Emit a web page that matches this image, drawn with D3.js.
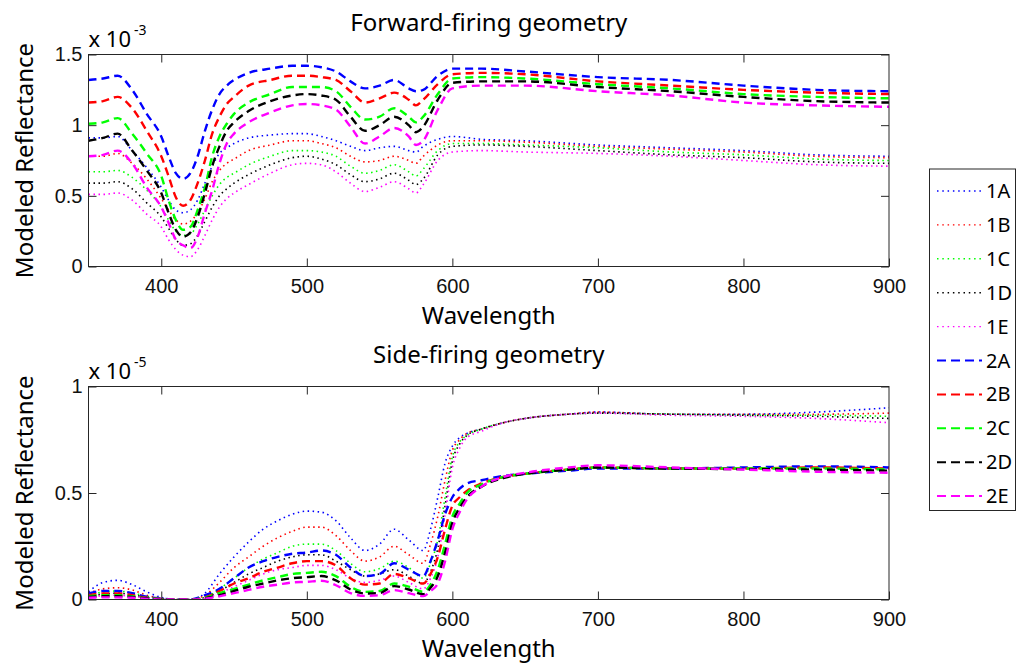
<!DOCTYPE html>
<html>
<head>
<meta charset="utf-8">
<script src="https://cdn.jsdelivr.net/npm/d3@7"></script>
<style>
  body { margin: 0; background: #fff; }
  svg { display: block; font-family: "Noto Sans", "Open Sans", sans-serif; }
</style>
</head>
<body>
<div id="chart"></div>
<script>
// ─── Data ───
const seriesNames = ["1A", "1B", "1C", "1D", "1E", "2A", "2B", "2C", "2D", "2E"];

// Forward-firing geometry (x 1e-3)
const wlFwd = [350, 360, 370, 380, 390, 400, 405, 410, 415, 420, 425, 430, 435, 440, 445, 450, 460, 475, 490, 500,
  510, 520, 530, 540, 550, 560, 570, 575, 580, 590, 600, 620, 650, 700, 750, 800, 850, 900];

const fwd1A = [0.91, 0.91, 0.92, 0.82, 0.70, 0.56, 0.47, 0.40, 0.38, 0.40, 0.47, 0.59, 0.71, 0.80, 0.84, 0.87, 0.91, 0.93, 0.94, 0.94,
  0.92, 0.89, 0.85, 0.82, 0.84, 0.85, 0.82, 0.81, 0.85, 0.90, 0.92, 0.90, 0.89, 0.86, 0.84, 0.82, 0.79, 0.78];
const fwd1B = [0.78, 0.78, 0.80, 0.73, 0.62, 0.48, 0.40, 0.33, 0.30, 0.32, 0.38, 0.48, 0.60, 0.68, 0.73, 0.76, 0.82, 0.86, 0.89, 0.89,
  0.87, 0.84, 0.78, 0.74, 0.75, 0.78, 0.75, 0.73, 0.78, 0.86, 0.89, 0.89, 0.88, 0.85, 0.83, 0.81, 0.78, 0.77];
const fwd1C = [0.67, 0.67, 0.68, 0.63, 0.54, 0.42, 0.33, 0.25, 0.22, 0.23, 0.30, 0.40, 0.50, 0.58, 0.63, 0.66, 0.72, 0.78, 0.82, 0.82,
  0.81, 0.78, 0.71, 0.66, 0.68, 0.72, 0.67, 0.64, 0.69, 0.82, 0.87, 0.87, 0.86, 0.84, 0.81, 0.79, 0.76, 0.75];
const fwd1D = [0.59, 0.59, 0.60, 0.55, 0.45, 0.35, 0.27, 0.19, 0.15, 0.16, 0.22, 0.32, 0.42, 0.50, 0.55, 0.59, 0.65, 0.72, 0.77, 0.78,
  0.76, 0.72, 0.65, 0.60, 0.62, 0.66, 0.61, 0.58, 0.62, 0.79, 0.85, 0.86, 0.85, 0.82, 0.79, 0.77, 0.74, 0.73];
const fwd1E = [0.51, 0.51, 0.52, 0.47, 0.37, 0.28, 0.19, 0.12, 0.08, 0.07, 0.12, 0.22, 0.33, 0.42, 0.48, 0.52, 0.58, 0.66, 0.72, 0.73,
  0.72, 0.67, 0.59, 0.53, 0.56, 0.60, 0.55, 0.52, 0.58, 0.75, 0.81, 0.82, 0.81, 0.80, 0.78, 0.75, 0.72, 0.71];
const fwd2A = [1.32, 1.33, 1.35, 1.25, 1.08, 0.92, 0.78, 0.66, 0.62, 0.66, 0.78, 0.96, 1.11, 1.22, 1.28, 1.32, 1.37, 1.40, 1.42, 1.42,
  1.41, 1.38, 1.31, 1.26, 1.28, 1.32, 1.26, 1.24, 1.25, 1.35, 1.40, 1.40, 1.38, 1.34, 1.32, 1.28, 1.25, 1.24];
const fwd2B = [1.16, 1.17, 1.20, 1.12, 0.96, 0.78, 0.64, 0.49, 0.43, 0.47, 0.59, 0.75, 0.94, 1.06, 1.15, 1.20, 1.28, 1.32, 1.35, 1.35,
  1.34, 1.32, 1.24, 1.16, 1.19, 1.23, 1.18, 1.14, 1.18, 1.29, 1.36, 1.37, 1.36, 1.31, 1.28, 1.25, 1.23, 1.22];
const fwd2C = [1.01, 1.02, 1.05, 0.94, 0.80, 0.64, 0.47, 0.33, 0.26, 0.28, 0.40, 0.56, 0.78, 0.92, 1.01, 1.08, 1.16, 1.22, 1.27, 1.27,
  1.27, 1.24, 1.13, 1.04, 1.06, 1.12, 1.06, 1.02, 1.06, 1.22, 1.33, 1.34, 1.33, 1.29, 1.26, 1.22, 1.20, 1.19];
const fwd2D = [0.89, 0.91, 0.94, 0.82, 0.68, 0.52, 0.38, 0.26, 0.21, 0.24, 0.35, 0.52, 0.71, 0.85, 0.96, 1.02, 1.10, 1.17, 1.21, 1.22,
  1.21, 1.18, 1.06, 0.96, 1.00, 1.06, 1.00, 0.95, 0.99, 1.18, 1.30, 1.31, 1.31, 1.27, 1.24, 1.20, 1.17, 1.16];
const fwd2E = [0.78, 0.79, 0.82, 0.73, 0.56, 0.42, 0.31, 0.19, 0.15, 0.13, 0.21, 0.38, 0.54, 0.73, 0.87, 0.94, 1.02, 1.09, 1.14, 1.15,
  1.14, 1.11, 0.99, 0.87, 0.92, 0.98, 0.92, 0.86, 0.89, 1.11, 1.26, 1.28, 1.28, 1.24, 1.21, 1.16, 1.14, 1.13];

// Side-firing geometry (x 1e-5)
const wlSide = [350, 360, 370, 380, 390, 400, 410, 420, 430, 440, 450, 460, 470, 480, 490, 500, 510, 520, 530, 540,
  550, 560, 570, 580, 585, 590, 595, 600, 605, 610, 620, 635, 650, 680, 700, 750, 800, 850, 900];

const side1A = [0.036, 0.08, 0.09, 0.07, 0.036, 0.01, 0, 0, 0.03, 0.12, 0.20, 0.27, 0.33, 0.37, 0.40, 0.415, 0.41, 0.37, 0.29, 0.23,
  0.26, 0.33, 0.28, 0.23, 0.33, 0.48, 0.64, 0.72, 0.76, 0.78, 0.80, 0.83, 0.85, 0.87, 0.88, 0.87, 0.87, 0.88, 0.90];
const side1B = [0.03, 0.05, 0.055, 0.045, 0.02, 0.005, 0, 0, 0.02, 0.08, 0.15, 0.20, 0.25, 0.29, 0.32, 0.34, 0.34, 0.30, 0.23, 0.18,
  0.20, 0.25, 0.21, 0.17, 0.26, 0.39, 0.56, 0.70, 0.75, 0.78, 0.80, 0.83, 0.85, 0.87, 0.88, 0.87, 0.87, 0.87, 0.875];
const side1C = [0.02, 0.035, 0.04, 0.03, 0.015, 0.003, 0, 0, 0.01, 0.05, 0.10, 0.15, 0.19, 0.22, 0.25, 0.26, 0.26, 0.23, 0.17, 0.13,
  0.145, 0.18, 0.15, 0.10, 0.17, 0.28, 0.48, 0.67, 0.74, 0.77, 0.80, 0.83, 0.85, 0.87, 0.875, 0.87, 0.865, 0.865, 0.86];
const side1D = [0.015, 0.025, 0.03, 0.022, 0.01, 0.002, 0, 0, 0.008, 0.04, 0.08, 0.12, 0.15, 0.18, 0.20, 0.21, 0.21, 0.18, 0.14, 0.11,
  0.12, 0.14, 0.11, 0.075, 0.13, 0.24, 0.44, 0.65, 0.73, 0.77, 0.80, 0.83, 0.85, 0.87, 0.875, 0.87, 0.865, 0.86, 0.85];
const side1E = [0.01, 0.018, 0.02, 0.015, 0.006, 0, 0, 0, 0.005, 0.03, 0.06, 0.09, 0.12, 0.14, 0.15, 0.16, 0.16, 0.14, 0.10, 0.08,
  0.09, 0.11, 0.08, 0.05, 0.10, 0.20, 0.40, 0.62, 0.71, 0.76, 0.79, 0.83, 0.85, 0.87, 0.875, 0.865, 0.86, 0.85, 0.83];
const side2A = [0.028, 0.04, 0.04, 0.03, 0.013, 0.005, 0, 0, 0.02, 0.05, 0.10, 0.15, 0.18, 0.20, 0.215, 0.22, 0.23, 0.21, 0.15, 0.11,
  0.12, 0.17, 0.14, 0.11, 0.18, 0.28, 0.40, 0.48, 0.52, 0.545, 0.56, 0.58, 0.59, 0.605, 0.615, 0.615, 0.62, 0.625, 0.62];
const side2B = [0.02, 0.028, 0.028, 0.02, 0.008, 0.003, 0, 0, 0.01, 0.04, 0.075, 0.10, 0.13, 0.15, 0.17, 0.18, 0.18, 0.16, 0.10, 0.07,
  0.075, 0.12, 0.10, 0.075, 0.12, 0.20, 0.33, 0.44, 0.48, 0.51, 0.545, 0.575, 0.59, 0.61, 0.62, 0.615, 0.615, 0.62, 0.615];
const side2C = [0.015, 0.02, 0.02, 0.015, 0.006, 0.002, 0, 0, 0.008, 0.03, 0.05, 0.07, 0.09, 0.105, 0.12, 0.125, 0.13, 0.11, 0.06, 0.036,
  0.04, 0.075, 0.06, 0.036, 0.07, 0.14, 0.26, 0.39, 0.45, 0.50, 0.54, 0.575, 0.59, 0.61, 0.62, 0.615, 0.615, 0.615, 0.61];
const side2D = [0.012, 0.015, 0.015, 0.012, 0.005, 0.001, 0, 0, 0.006, 0.02, 0.04, 0.06, 0.075, 0.09, 0.10, 0.105, 0.11, 0.09, 0.047, 0.028,
  0.03, 0.063, 0.047, 0.025, 0.055, 0.11, 0.22, 0.36, 0.43, 0.48, 0.53, 0.57, 0.59, 0.61, 0.62, 0.615, 0.612, 0.61, 0.605];
const side2E = [0.008, 0.01, 0.01, 0.008, 0.003, 0, 0, 0, 0.004, 0.015, 0.03, 0.045, 0.06, 0.07, 0.08, 0.083, 0.088, 0.067, 0.03, 0.017,
  0.02, 0.044, 0.03, 0.016, 0.04, 0.075, 0.18, 0.33, 0.41, 0.47, 0.53, 0.575, 0.595, 0.62, 0.63, 0.62, 0.61, 0.60, 0.595];

const xTicks = [400, 500, 600, 700, 800, 900];
const yTicksFwd = [0, 0.5, 1, 1.5];
const yTicksSide = [0, 0.5, 1];

// ─── Styles ───
const colors = ["#0000ff", "#ff0000", "#00ff00", "#000000", "#ff00ff"];
const styleOf = (i) => i < 5
  ? { color: colors[i], dash: "1.5,3.5", width: 1.6 }
  : { color: colors[i - 5], dash: "8,5", width: 2.4 };

const W = 1018, H = 665;
const axColor = "#262626";
const tickFont = 20;   // tick labels, legend
const labelFont = 24;  // titles, axis labels

const svg = d3.select("#chart").append("svg")
  .attr("width", W).attr("height", H)
  .attr("viewBox", `0 0 ${W} ${H}`);

const xLeft = 88.5, xRight = 889;

function drawPanel(opts) {
  const { top, bottom, wl, series, yMax, yTicks, title, exp } = opts;
  const x = d3.scaleLinear().domain([350, 900]).range([xLeft, xRight]);
  const y = d3.scaleLinear().domain([0, yMax]).range([bottom, top]);
  const g = svg.append("g");

  // clip to the axes box
  const clipId = "clip" + Math.round(top);
  g.append("clipPath").attr("id", clipId).append("rect")
    .attr("x", xLeft).attr("y", top).attr("width", xRight - xLeft).attr("height", bottom - top);

  const line = d3.line()
    .x((d) => x(d[0]))
    .y((d) => y(d[1]))
    .curve(d3.curveMonotoneX);

  const gLines = g.append("g").attr("clip-path", `url(#${clipId})`);
  series.forEach((vals, i) => {
    const st = styleOf(i);
    gLines.append("path")
      .datum(wl.map((w, k) => [w, vals[k]]))
      .attr("d", line)
      .attr("fill", "none")
      .attr("stroke", st.color)
      .attr("stroke-width", st.width)
      .attr("stroke-dasharray", st.dash);
  });

  // ── Axes (inward ticks on all four sides) ──
  const fmt = (d) => String(d);
  const styleAxis = (sel) => {
    sel.select(".domain").remove();
    sel.selectAll(".tick line").attr("stroke", axColor).attr("stroke-width", 1);
    sel.selectAll("text").attr("font-family", null)
      .style("font-size", tickFont + "px").attr("fill", "#111");
  };

  g.append("g").attr("transform", `translate(0,${bottom})`)
    .call(d3.axisBottom(x).tickValues(xTicks).tickFormat(fmt).tickSizeInner(-8).tickSizeOuter(0).tickPadding(12))
    .call(styleAxis);
  g.append("g").attr("transform", `translate(0,${top})`)
    .call(d3.axisTop(x).tickValues(xTicks.slice(0, -1)).tickFormat("").tickSizeInner(-8).tickSizeOuter(0))
    .call(styleAxis);
  g.append("g").attr("transform", `translate(${xLeft},0)`)
    .call(d3.axisLeft(y).tickValues(yTicks).tickFormat(fmt).tickSizeInner(-8).tickSizeOuter(0).tickPadding(6))
    .call(styleAxis);
  g.append("g").attr("transform", `translate(${xRight},0)`)
    .call(d3.axisRight(y).tickValues(yTicks).tickFormat("").tickSizeInner(-8).tickSizeOuter(0))
    .call(styleAxis);

  g.append("rect")
    .attr("x", xLeft).attr("y", top)
    .attr("width", xRight - xLeft).attr("height", bottom - top)
    .attr("fill", "none").attr("stroke", axColor).attr("stroke-width", 1);

  // ── Labels ──
  const cx = (xLeft + xRight) / 2;
  g.append("text").attr("x", cx).attr("y", bottom + 57)
    .attr("text-anchor", "middle").style("font-size", labelFont + "px").text("Wavelength");
  g.append("text").attr("x", cx).attr("y", top - 23.5)
    .attr("text-anchor", "middle").style("font-size", labelFont + "px").text(title);
  g.append("text")
    .attr("transform", `translate(33,${(top + bottom) / 2}) rotate(-90)`)
    .attr("text-anchor", "middle").style("font-size", labelFont + "px").text("Modeled Reflectance");

  const ex = g.append("text").attr("x", xLeft).attr("y", top - 7.5).style("font-size", "22px");
  ex.append("tspan").text("x 10");
  ex.append("tspan").attr("dx", 3).attr("dy", -12).style("font-size", "14px").text(exp);
}

drawPanel({
  top: 54.5, bottom: 266.5, wl: wlFwd,
  series: [fwd1A, fwd1B, fwd1C, fwd1D, fwd1E, fwd2A, fwd2B, fwd2C, fwd2D, fwd2E],
  yMax: 1.5, yTicks: yTicksFwd, title: "Forward-firing geometry", exp: "-3",
});
drawPanel({
  top: 386.5, bottom: 599.5, wl: wlSide,
  series: [side1A, side1B, side1C, side1D, side1E, side2A, side2B, side2C, side2D, side2E],
  yMax: 1, yTicks: yTicksSide, title: "Side-firing geometry", exp: "-5",
});

// ─── Legend ───
const lg = svg.append("g");
const lgTop = 169, lgLeft = 929.5, rowH = 33.9;
lg.append("rect")
  .attr("x", lgLeft).attr("y", lgTop).attr("width", 86).attr("height", 341.5)
  .attr("fill", "#fff").attr("stroke", axColor).attr("stroke-width", 1);
seriesNames.forEach((name, i) => {
  const st = styleOf(i);
  const yy = 191 + i * rowH;
  lg.append("line")
    .attr("x1", 937).attr("x2", 982).attr("y1", yy).attr("y2", yy)
    .attr("stroke", st.color).attr("stroke-width", i < 5 ? 1.4 : 2)
    .attr("stroke-dasharray", i < 5 ? "1.5,3.8" : "9,5");
  lg.append("text").attr("x", 986).attr("y", yy).attr("dy", "0.35em")
    .style("font-size", tickFont + "px").text(name);
});
</script>
</body>
</html>
